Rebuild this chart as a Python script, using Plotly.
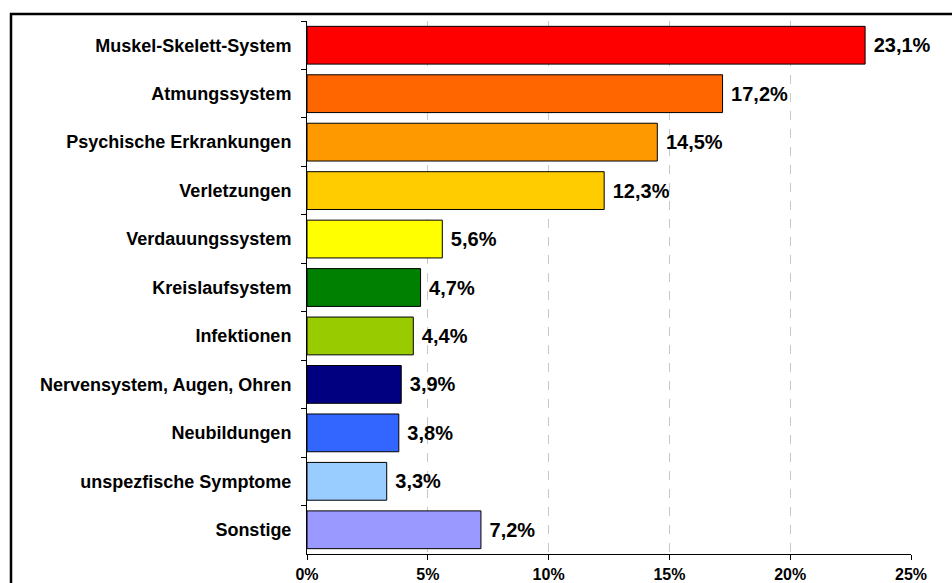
import plotly.graph_objects as go

categories = [
    "Muskel-Skelett-System",
    "Atmungssystem",
    "Psychische Erkrankungen",
    "Verletzungen",
    "Verdauungssystem",
    "Kreislaufsystem",
    "Infektionen",
    "Nervensystem, Augen, Ohren",
    "Neubildungen",
    "unspezfische Symptome",
    "Sonstige",
]
shares = [0.231, 0.172, 0.145, 0.123, 0.056, 0.047, 0.044, 0.039, 0.038, 0.033, 0.072]
colors = [
    "#FF0000", "#FF6600", "#FF9900", "#FFCC00", "#FFFF00", "#008000",
    "#99CC00", "#000080", "#3366FF", "#99CCFF", "#9999FF",
]
x_ticks = [0, 0.05, 0.10, 0.15, 0.20, 0.25]

FONT = "Liberation Sans, Arial, sans-serif"

fig = go.Figure(
    go.Bar(
        y=categories,
        x=shares,
        orientation="h",
        marker=dict(color=colors, line=dict(color="#000000", width=1)),
        texttemplate="<b> %{x:.1%}</b>",
        textposition="outside",
        textfont=dict(family=FONT, size=20, color="#000000"),
        cliponaxis=False,
        hoverinfo="skip",
    )
)

W, H = 952, 583
L, R, T, B = 307, 41, 21, 28.5
pw, ph = W - L - R, H - T - B

def px_x(p):
    return (p - L) / pw

def px_y(p):
    return 1 - (p - T) / ph

fig.update_layout(
    width=W,
    height=H,
    autosize=False,
    margin=dict(l=L, r=R, t=T, b=B, autoexpand=False),
    paper_bgcolor="#FFFFFF",
    plot_bgcolor="#FFFFFF",
    separators=",.",
    bargap=0.22,
    showlegend=False,
    font=dict(family=FONT, color="#000000"),
    shapes=[
        dict(
            type="rect", xref="paper", yref="paper",
            x0=px_x(11), x1=px_x(980), y0=px_y(14), y1=px_y(610),
            line=dict(color="#000000", width=2.5), fillcolor="rgba(0,0,0,0)",
            layer="below",
        )
    ],
)

fig.update_xaxes(
    range=[0, 0.25],
    tickvals=x_ticks,
    tickformat=".0%",
    automargin=False,
    showgrid=True,
    gridcolor="#C8C8C8",
    griddash="dash",
    gridwidth=1,
    zeroline=False,
    showline=True,
    linecolor="#000000",
    linewidth=1,
    ticks="outside",
    ticklen=5,
    tickcolor="#000000",
    ticklabelstandoff=1,
    tickfont=dict(family=FONT, size=16, color="#000000", weight="bold"),
)

fig.update_yaxes(
    autorange="reversed",
    automargin=False,
    showgrid=False,
    showline=True,
    linecolor="#000000",
    linewidth=1,
    ticks="outside",
    ticklen=5,
    tickson="boundaries",
    tickcolor="#000000",
    ticklabelstandoff=11,
    tickfont=dict(family=FONT, size=18, color="#000000", weight="bold"),
)

fig.write_html(
    "out.html",
    config={"displayModeBar": False, "staticPlot": True},
    post_script="document.body.style.margin='0';document.body.style.overflow='hidden';",
)
